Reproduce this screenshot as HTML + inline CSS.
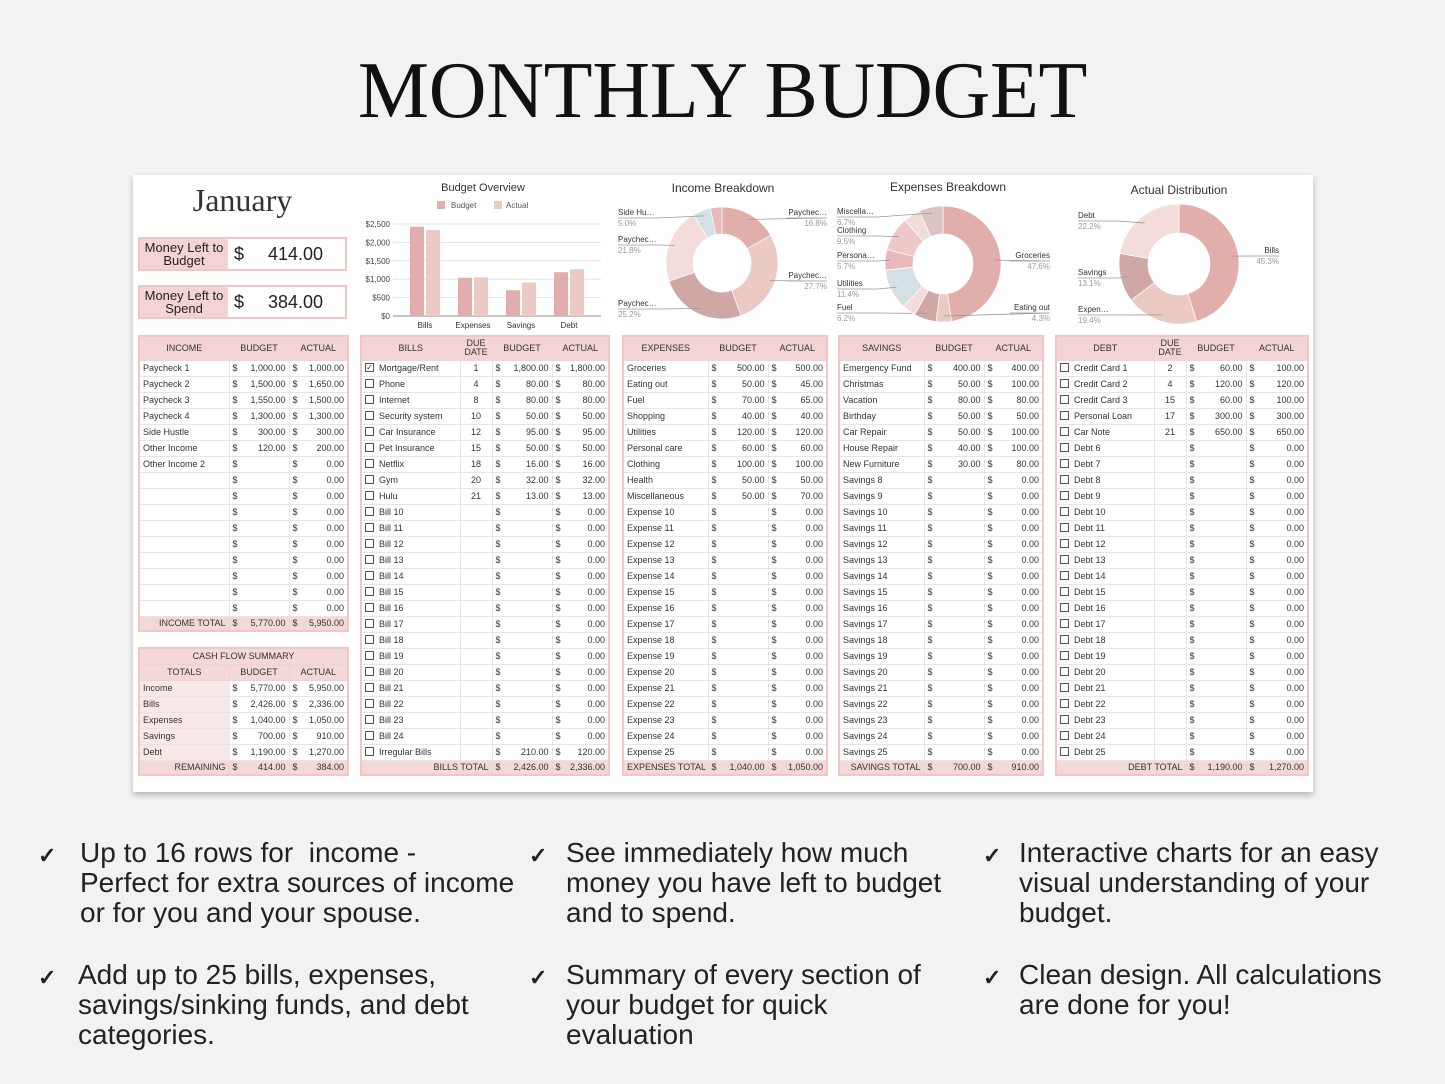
<!DOCTYPE html>
<html><head><meta charset="utf-8">
<style>
*{box-sizing:border-box;margin:0;padding:0}
body{width:1445px;height:1084px;background:#f2f2f2;position:relative;overflow:hidden;font-family:"Liberation Sans",sans-serif;color:#222}
#title{position:absolute;left:0;width:1445px;top:51px;text-align:center;font-family:"Liberation Serif",serif;font-size:80px;line-height:80px;letter-spacing:-0.3px;color:#111}
#sheet{position:absolute;left:133px;top:175px;width:1180px;height:617px;background:#fff;box-shadow:0 3px 6px rgba(0,0,0,.25)}
table.t{position:absolute;border-collapse:collapse;table-layout:fixed;font-size:9px;color:#333;border:2px solid #f0c6c6}
table.t td{height:16px;border:1px solid #e6e6e6;padding:0 3px;white-space:nowrap;overflow:hidden}
table.t tr.h td{background:#f3d3d3;border-color:#f3d3d3;text-align:center;height:24px;font-size:9px;line-height:9px;text-transform:uppercase}
table.t tr.tot td{background:#f4d8d8;border-color:#f0d0d0;height:15px}
.m{display:flex;justify-content:space-between}
.cb{display:inline-block;width:9px;height:9px;border:1px solid #555;vertical-align:middle;margin-right:5px;position:relative;top:-1px;font-size:8px;line-height:7px;text-align:center}
.mbox{position:absolute;left:138px;width:209px;height:34px;border:2px solid #f0c6c6;display:flex}
.mbox .l{width:88px;background:#f3d3d3;font-size:13px;line-height:13px;text-align:center;display:flex;align-items:center;justify-content:center}
.mbox .v{flex:1;display:flex;align-items:center;font-size:18px;padding:0 6px;justify-content:space-between}
.bul{position:absolute;font-size:28px;line-height:30px;color:#222}
.ck{position:absolute;font-size:22px;font-weight:bold;color:#222}
svg text{font-family:"Liberation Sans",sans-serif}
</style></head><body>
<div id="title">MONTHLY BUDGET</div>
<div id="sheet"></div>
<div style="position:absolute;left:138px;top:182px;width:209px;text-align:center;font-family:'Liberation Serif',serif;font-size:32px;color:#333">January</div>
<div class="mbox" style="top:237px"><div class="l">Money Left to Budget</div><div class="v"><span>$</span><span style="padding-right:16px">414.00</span></div></div>
<div class="mbox" style="top:285px"><div class="l">Money Left to Spend</div><div class="v"><span>$</span><span style="padding-right:16px">384.00</span></div></div>

<svg id="charts" width="1445" height="1084" style="position:absolute;left:0;top:0;pointer-events:none"></svg>

<div class="ck" style="left:38px;top:843px">✓</div>
<div class="bul" style="left:80px;top:838px">Up to 16 rows for&nbsp; income -<br>Perfect for extra sources of income<br>or for you and your spouse.</div>
<div class="ck" style="left:38px;top:965px">✓</div>
<div class="bul" style="left:78px;top:960px">Add up to 25 bills, expenses,<br>savings/sinking funds, and debt<br>categories.</div>
<div class="ck" style="left:529px;top:843px">✓</div>
<div class="bul" style="left:566px;top:838px">See immediately how much<br>money you have left to budget<br>and to spend.</div>
<div class="ck" style="left:529px;top:965px">✓</div>
<div class="bul" style="left:566px;top:960px">Summary of every section of<br>your budget for quick<br>evaluation</div>
<div class="ck" style="left:983px;top:843px">✓</div>
<div class="bul" style="left:1019px;top:838px">Interactive charts for an easy<br>visual understanding of your<br>budget.</div>
<div class="ck" style="left:983px;top:965px">✓</div>
<div class="bul" style="left:1019px;top:960px">Clean design. All calculations<br>are done for you!</div>

<script>
// ---------- chart data ----------
const barCategories = ["Bills","Expenses","Savings","Debt"];
const barBudget = [2426,1040,700,1190];
const barActual = [2336,1050,910,1270];
const barTicks = [0,500,1000,1500,2000,2500];
const barTickLabels = ["$0","$500","$1,000","$1,500","$2,000","$2,500"];

const incomeLabels = ["Paychec…","Paychec…","Paychec…","Paychec…","Side Hu…","Other"];
const incomeValues = [1000,1650,1500,1300,300,200];
const incomePct = ["16.8%","27.7%","25.2%","21.8%","5.0%",""];

const expLabels = ["Groceries","Eating out","Fuel","Shopping","Utilities","Persona…","Clothing","Health","Miscella…"];
const expValues = [500,45,65,40,120,60,100,50,70];
const expPct = ["47.6%","4.3%","6.2%","","11.4%","5.7%","9.5%","","6.7%"];

const distLabels = ["Bills","Expen…","Savings","Debt"];
const distValues = [45.3,19.4,13.1,22.2];
const distPct = ["45.3%","19.4%","13.1%","22.2%"];

const pal = ["#e2aeab","#ebcac3","#cfa7a5","#f3dcda","#d3e0e4","#eab9bd","#ecc9c6","#f2dcd9","#dcc4c2"];
const NS="http://www.w3.org/2000/svg";
const svg=document.getElementById('charts');
function mk(tag,attrs,parent){const e=document.createElementNS(NS,tag);for(const k in attrs)e.setAttribute(k,attrs[k]);(parent||svg).appendChild(e);return e;}
function txt(x,y,s,size,fill,anchor,parent){const t=mk('text',{x:x,y:y,'font-size':size,fill:fill,'text-anchor':anchor||'start'},parent);t.textContent=s;return t;}

// ---------- bar chart ----------
const bx0=393,bx1=601,by0=316,by1=224,bmax=2500;
function yS(v){return by0-(v/bmax)*(by0-by1);}
function xC(i){const bw=(bx1-bx0-16)/barCategories.length;return bx0+8+bw*(i+0.5);}
const bg=mk('g',{});


let tt=txt(483,191,"Budget Overview",11,"#333","middle",bg);


mk('rect',{x:437,y:201,width:8,height:8,fill:pal[0]},bg);txt(451,208,"Budget",8,"#555","start",bg);
mk('rect',{x:494,y:201,width:8,height:8,fill:pal[1]},bg);txt(506,208,"Actual",8,"#555","start",bg);
barTicks.forEach((v,i)=>{
  const y=yS(v);
  mk('line',{x1:bx0,x2:bx1,y1:y,y2:y,stroke:i==0?'#888':'#e3e3e3','stroke-width':1},bg);
  const l=txt(390,y+3,barTickLabels[i],8,"#444","end",bg);
  
  
});
barCategories.forEach((c,i)=>{
  const cx=xC(i);
  const b1=mk('rect',{x:cx-15,y:yS(barBudget[i]),width:14,height:by0-yS(barBudget[i]),fill:pal[0]},bg);
  
  
  const b2=mk('rect',{x:cx+1,y:yS(barActual[i]),width:14,height:by0-yS(barActual[i]),fill:pal[1]},bg);
  
  
  const l=txt(cx,328,c,8,"#333","middle",bg);
  
  
});

// ---------- donuts ----------
function donut(name,title,tx,ty,cx,cy,r,ri,vals,labels,pcts,labelPos){
  const g=mk('g',{});
  
  
  txt(tx,ty,title,12,"#333","middle",g);
  const tot=vals.reduce((a,b)=>a+b,0);let a=-Math.PI/2;
  vals.forEach((v,i)=>{
    const a2=a+v/tot*Math.PI*2;
    const p=(ang,rr)=>[cx+rr*Math.cos(ang),cy+rr*Math.sin(ang)];
    const [x1,y1]=p(a,r),[x2,y2]=p(a2,r),[x3,y3]=p(a2,ri),[x4,y4]=p(a,ri);
    const lg=(a2-a)>Math.PI?1:0;
    const s=mk('path',{d:`M${x1},${y1}A${r},${r} 0 ${lg} 1 ${x2},${y2}L${x3},${y3}A${ri},${ri} 0 ${lg} 0 ${x4},${y4}Z`,fill:pal[i%pal.length],stroke:'#fff','stroke-width':0.7},g);
    
    
    const lp=labelPos[i];
    if(lp){
      const mid=(a+a2)/2;const [mx,my]=p(mid,(r+ri)/2+8);
      const right=lp[2]=='end';
      const lx=right?lp[0]-40:lp[0];const lx2=right?lp[0]:lp[0]+40;
      mk('polyline',{points:`${lx},${lp[1]+3} ${lx2},${lp[1]+3} ${mx},${my}`,fill:'none',stroke:'#999','stroke-width':0.8},g);
      txt(lp[0],lp[1],labels[i],8,"#333",lp[2],g);
      txt(lp[0],lp[1]+11,pcts[i],8,"#999",lp[2],g);
    }
    a=a2;
  });
}
donut('income-breakdown-chart',"Income Breakdown",723,192,722,263,56,29,incomeValues,incomeLabels,incomePct,
  [[827,215,'end'],[827,278,'end'],[618,306,'start'],[618,242,'start'],[618,215,'start'],null]);
donut('expenses-breakdown-chart',"Expenses Breakdown",948,191,943,264,58,30,expValues,expLabels,expPct,
  [[1050,258,'end'],[1050,310,'end'],[837,310,'start'],null,[837,286,'start'],[837,258,'start'],[837,233,'start'],null,[837,214,'start']]);
donut('actual-distribution-chart',"Actual Distribution",1179,194,1179,264,60,31,distValues,distLabels,distPct,
  [[1279,253,'end'],[1078,312,'start'],[1078,275,'start'],[1078,218,'start']]);

// ---------- tables ----------
function fmt(v){return v==null?'':v.toLocaleString('en-US',{minimumFractionDigits:2,maximumFractionDigits:2});}
function money(v,zero){const s=v==null?(zero?'0.00':''):fmt(v);return '<div class="m"><span>$</span><span>'+s+'</span></div>';}
function table(name,x,y,widths,head,rows,totLabel,totB,totA,due,check){
  const t=document.createElement('table');t.className='t';
  
  
  t.style.left=x+'px';t.style.top=y+'px';
  t.style.width=widths.reduce((a,b)=>a+b,0)+'px';
  let h='<colgroup>'+widths.map(w=>'<col style="width:'+w+'px">').join('')+'</colgroup>';
  h+='<tr class="h">'+head.map(s=>'<td>'+s+'</td>').join('')+'</tr>';
  rows.forEach(r=>{
    h+='<tr>';
    h+='<td>'+(check?'<span class="cb">'+(r[4]?'✓':'')+'</span>':'')+r[0]+'</td>';
    if(due)h+='<td style="text-align:center">'+(r[3]||'')+'</td>';
    h+='<td>'+money(r[1],false)+'</td><td>'+money(r[2],true)+'</td></tr>';
  });
  if(totLabel){
    h+='<tr class="tot"><td colspan="'+(due?2:1)+'" style="text-align:right">'+totLabel+'</td><td>'+money(totB)+'</td><td>'+money(totA)+'</td></tr>';
  }
  t.innerHTML=h;document.body.appendChild(t);
}
function fill(base,n,start,prefix){for(let i=start;i<=n;i++)base.push([prefix+i,null,null]);return base;}
const incRows=[["Paycheck 1",1000,1000],["Paycheck 2",1500,1650],["Paycheck 3",1550,1500],["Paycheck 4",1300,1300],["Side Hustle",300,300],["Other Income",120,200],["Other Income 2",null,null]];
for(let i=0;i<9;i++)incRows.push(["",null,null]);
table('income-table',138,335,[90,60,59],["Income","Budget","Actual"],incRows,"INCOME TOTAL",5770,5950,false,false);

const billRows=[["Mortgage/Rent",1800,1800,1,true],["Phone",80,80,4],["Internet",80,80,8],["Security system",50,50,10],["Car Insurance",95,95,12],["Pet Insurance",50,50,15],["Netflix",16,16,18],["Gym",32,32,20],["Hulu",13,13,21]];
fill(billRows,24,10,"Bill ");billRows.push(["Irregular Bills",210,120]);
table('bills-table',360,335,[99,32,60,57],["Bills","Due<br>Date","Budget","Actual"],billRows,"BILLS TOTAL",2426,2336,true,true);

const expRows=[["Groceries",500,500],["Eating out",50,45],["Fuel",70,65],["Shopping",40,40],["Utilities",120,120],["Personal care",60,60],["Clothing",100,100],["Health",50,50],["Miscellaneous",50,70]];
fill(expRows,25,10,"Expense ");
table('expenses-table',622,335,[85,60,59],["Expenses","Budget","Actual"],expRows,"EXPENSES TOTAL",1040,1050,false,false);

const savRows=[["Emergency Fund",400,400],["Christmas",50,100],["Vacation",80,80],["Birthday",50,50],["Car Repair",50,100],["House Repair",40,100],["New Furniture",30,80]];
fill(savRows,25,8,"Savings ");
table('savings-table',838,335,[85,60,59],["Savings","Budget","Actual"],savRows,"SAVINGS TOTAL",700,910,false,false);

const debtRows=[["Credit Card 1",60,100,2],["Credit Card 2",120,120,4],["Credit Card 3",60,100,15],["Personal Loan",300,300,17],["Car Note",650,650,21]];
fill(debtRows,25,6,"Debt ");
table('debt-table',1055,335,[98,32,60,62],["Debt","Due<br>Date","Budget","Actual"],debtRows,"DEBT TOTAL",1190,1270,true,true);

// cash flow summary
const cf=document.createElement('table');cf.className='t';


cf.style.left='138px';cf.style.top='647px';cf.style.width='209px';
const cfRows=[["Income",5770,5950],["Bills",2426,2336],["Expenses",1040,1050],["Savings",700,910],["Debt",1190,1270]];
let ch='<colgroup><col style="width:90px"><col style="width:60px"><col style="width:59px"></colgroup>';
ch+='<tr class="tot"><td colspan="3" style="text-align:center;height:16px">CASH FLOW SUMMARY</td></tr>';
ch+='<tr class="tot"><td style="text-align:center;height:16px">TOTALS</td><td style="text-align:center">BUDGET</td><td style="text-align:center">ACTUAL</td></tr>';
cfRows.forEach(r=>{ch+='<tr><td style="background:#f8e8e8">'+r[0]+'</td><td>'+money(r[1])+'</td><td>'+money(r[2])+'</td></tr>';});
ch+='<tr class="tot"><td style="text-align:right">REMAINING</td><td>'+money(414)+'</td><td>'+money(384)+'</td></tr>';
cf.innerHTML=ch;document.body.appendChild(cf);
</script>
</body></html>
